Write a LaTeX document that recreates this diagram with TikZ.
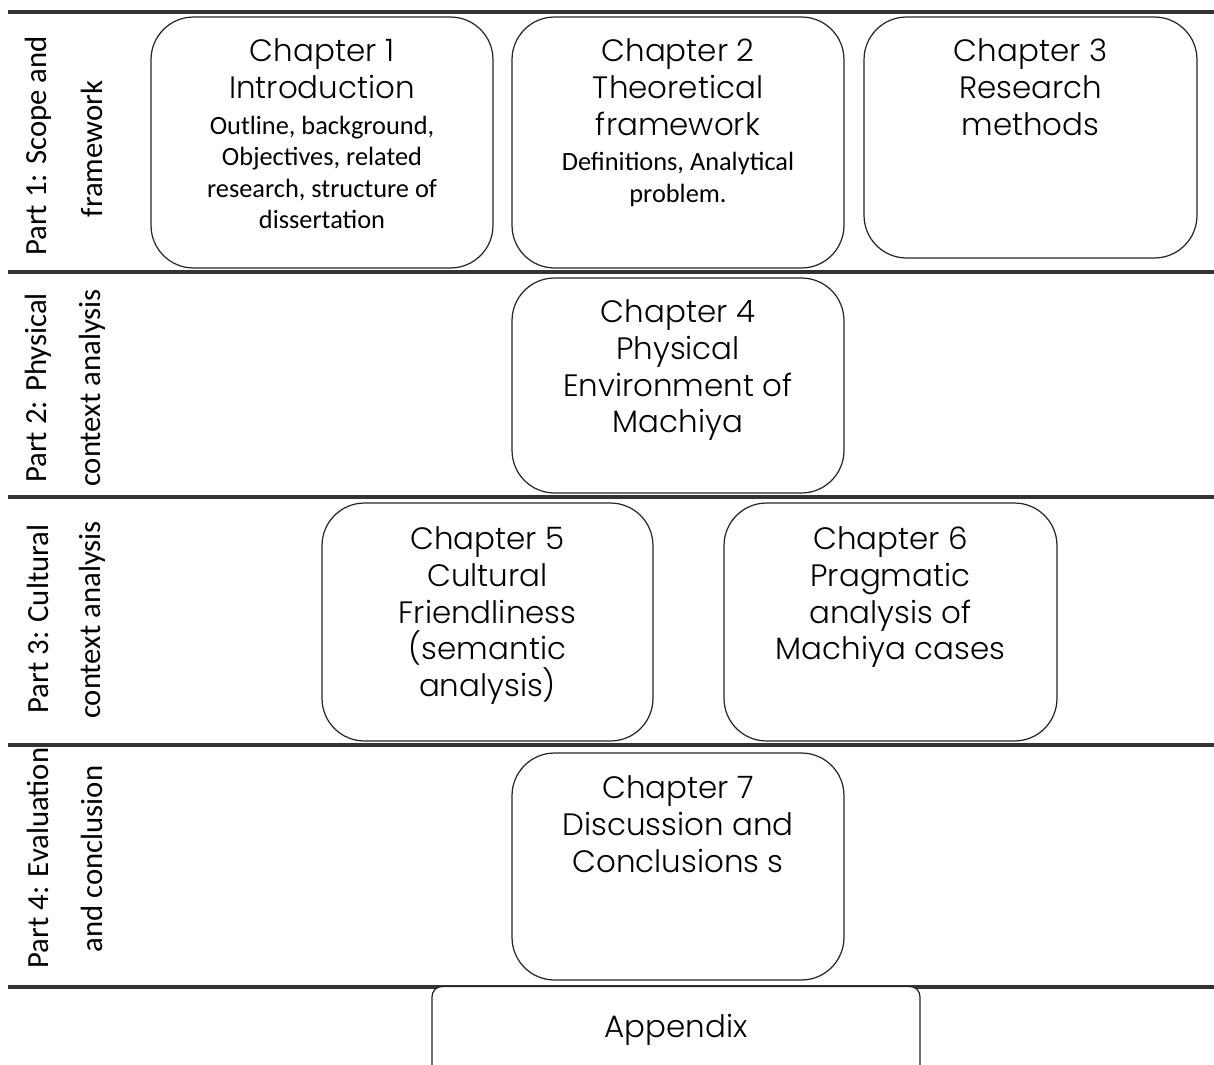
\documentclass[tikz,border=0pt]{standalone}
\usepackage{fontspec}
\IfFontExistsTF{Poppins Light}{\setmainfont{Poppins Light}}{\setmainfont{Poppins}}
\newfontfamily\subfont{Carlito}
\newfontfamily\partfont{Carlito}
\begin{document}
\begin{tikzpicture}[x=0.02cm,y=-0.02cm,
  chap/.style={draw=black!85, line width=0.7pt, rounded corners=0.85cm, fill=white, inner sep=0pt},
  appbox/.style={draw=black!85, line width=0.7pt, rounded corners=0.2cm, fill=white, inner sep=0pt},
  sepline/.style={line width=2.4pt, draw=black!80},
  ttl/.style={anchor=north, align=center, inner sep=0pt, font=\fontsize{17.6}{21}\selectfont},
  subt/.style={anchor=north, align=center, inner sep=0pt, font=\subfont\fontsize{15}{18}\selectfont},
  partlbl/.style={rotate=90, inner sep=0pt, font=\partfont\fontsize{17.5}{18}\selectfont}]
\useasboundingbox (0,0) rectangle (1214,1065);

% separator lines
\coordinate (l1a) at (8,12);   \coordinate (l1b) at (1214,12);
\coordinate (l2a) at (8,272);  \coordinate (l2b) at (1214,272);
\coordinate (l3a) at (8,497);  \coordinate (l3b) at (1214,497);
\coordinate (l4a) at (8,745);  \coordinate (l4b) at (1214,745);
\coordinate (l5a) at (8,987);  \coordinate (l5b) at (1214,987);
\draw[sepline] (l1a) -- (l1b);
\draw[sepline] (l2a) -- (l2b);
\draw[sepline] (l3a) -- (l3b);
\draw[sepline] (l4a) -- (l4b);
\draw[sepline] (l5a) -- (l5b);

% chapter boxes
\node[chap, minimum width=6.84cm, minimum height=5.02cm] (c1) at (322,142.5) {};
\node[chap, minimum width=6.64cm, minimum height=5.02cm] (c2) at (678,142.5) {};
\node[chap, minimum width=6.66cm, minimum height=4.82cm] (c3) at (1030.5,137.5) {};
\node[chap, minimum width=6.64cm, minimum height=4.30cm] (c4) at (678,385.5) {};
\node[chap, minimum width=6.62cm, minimum height=4.76cm] (c5) at (487.5,622) {};
\node[chap, minimum width=6.66cm, minimum height=4.76cm] (c6) at (890.5,622) {};
\node[chap, minimum width=6.64cm, minimum height=4.54cm] (c7) at (678,866.5) {};
\node[appbox, minimum width=9.76cm, minimum height=1.9cm] (ap) at (676,1034) {};

% chapter texts
\node[ttl] (c1t) at (322,38) {Chapter 1\\Introduction};
\node[subt] (c1s) at ([yshift=-9.5pt]c1t.south) {Outline, background,\\Objectives, related\\research, structure of\\dissertation};
\node[ttl] (c2t) at (678,38) {Chapter 2\\Theoretical\\framework};
\node[subt] (c2s) at ([yshift=-9.5pt]c2t.south) {Definitions, Analytical\\problem.};
\node[ttl] (c3t) at (1030.5,38) {Chapter 3\\Research\\methods};
\node[ttl] (c4t) at (678,299) {Chapter 4\\Physical\\Environment of\\Machiya};
\node[ttl] (c5t) at (487.5,526) {Chapter 5\\Cultural\\Friendliness\\(semantic\\analysis)};
\node[ttl] (c6t) at (890.5,526) {Chapter 6\\Pragmatic\\analysis of\\Machiya cases};
\node[ttl] (c7t) at (678,775) {Chapter 7\\Discussion and\\Conclusions s};
\node[ttl] (apt) at (676,1014) {Appendix};

% part labels
\node[partlbl] (p1a) at (38,146) {Part 1: Scope and};
\node[partlbl] (p1b) at (92,149) {framework};
\node[partlbl] (p2a) at (38,388) {Part 2: Physical};
\node[partlbl] (p2b) at (92,388) {context analysis};
\node[partlbl] (p3a) at (38,619) {Part 3: Cultural};
\node[partlbl] (p3b) at (92,620) {context analysis};
\node[partlbl] (p4a) at (38,858) {Part 4: Evaluation};
\node[partlbl] (p4b) at (92,859) {and conclusion};
\end{tikzpicture}
\end{document}
